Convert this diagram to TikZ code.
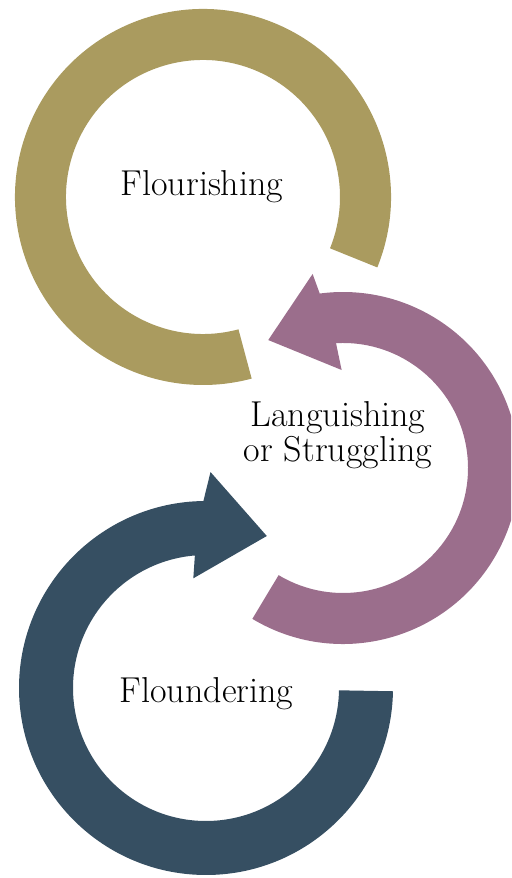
\documentclass[tikz,border=0pt]{standalone}
\usepackage{fontspec}
\usetikzlibrary{calc}

\definecolor{goldring}{HTML}{AA9B5F}
\definecolor{plumring}{HTML}{9B6E8C}
\definecolor{slatering}{HTML}{364F62}

\begin{document}
\begin{tikzpicture}[x=0.02cm, y=0.02cm,
  every node/.style={font=\fontsize{20.5pt}{19.9pt}\selectfont, text=black},
  ring/.style={draw=none}]

  % page frame
  \useasboundingbox (0,0) rectangle (511,878);
  \clip (0,0) rectangle (511,878);

  % centres of the three rings
  \coordinate (top) at (203,681);
  \coordinate (mid) at (343,410);
  \coordinate (bot) at (206,190);

  % Flourishing: open gold ring
  \fill[ring, goldring] ($(top)+(-22:188)$) arc[start angle=-22, end angle=285, radius=188]
    -- ($(top)+(285:137)$) arc[start angle=285, end angle=-22, radius=137] -- cycle;

  % Languishing: purple arrow turning left at the top
  \fill[ring, plumring] ($(mid)+(-121:176)$) arc[start angle=-121, end angle=97.6, radius=176]
    -- ($(mid)+(98.9:196.4)$) -- ($(mid)+(120.3:148.2)$) -- ($(mid)+(90.8:98)$)
    -- ($(mid)+(93.2:125)$) arc[start angle=93.2, end angle=-121, radius=125] -- cycle;

  % Floundering: blue arrow turning right at the top
  \fill[ring, slatering] ($(bot)+(-1:187)$) arc[start angle=-1, end angle=-269.2, radius=187]
    -- ($(bot)+(88.8:216)$) -- ($(bot)+(68.2:163.7)$) -- ($(bot)+(96.6:110.4)$)
    -- ($(bot)+(94.8:133)$) arc[start angle=-265.2, end angle=-1, radius=133] -- cycle;

  % Labels
  \node[anchor=base] (flourish) at (202,682) {Flourishing};
  \node[align=center] (languish) at (338,442.5) {Languishing\\or Struggling};
  \node[anchor=base] (flounder) at (206.5,175) {Floundering};

\end{tikzpicture}
\end{document}
